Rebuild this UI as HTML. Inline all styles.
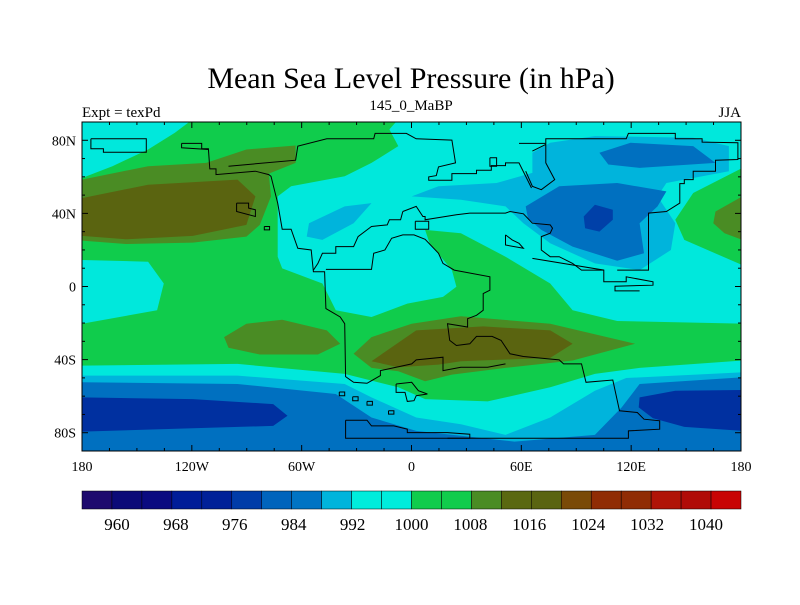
<!DOCTYPE html>
<html><head><meta charset="utf-8"><style>
body{margin:0;background:#fff;}
svg text{font-family:"Liberation Serif",serif;fill:#000;}
</style></head><body>
<svg width="800" height="600" viewBox="0 0 800 600">
<text x="411" y="88" font-size="30" text-anchor="middle">Mean Sea Level Pressure (in hPa)</text>
<text x="82" y="117" font-size="15">Expt = texPd</text>
<text x="411" y="110" font-size="15" text-anchor="middle">145_0_MaBP</text>
<text x="741" y="117" font-size="15" text-anchor="end">JJA</text>
<defs><clipPath id="pc"><rect x="82" y="122" width="659" height="329"/></clipPath></defs>
<g id="fields" clip-path="url(#pc)"></g>
<g id="coast" clip-path="url(#pc)"></g>
<rect x="82" y="122" width="659" height="329" fill="none" stroke="#000" stroke-width="1"/>
<g id="axes"></g>
<g id="cbar"></g>
</svg>
<script>
// contour level colours (colorbar)
const barColors=["#1e0a6e","#0c0a78","#0a0a80","#001c98","#002098","#003ca8","#0064bc","#0074c4","#00b4dc","#00ecdc","#00ecdc","#10cc4c","#10cc4c","#4a8c24","#5a6810","#5a6410","#7a4a08","#902c04","#902c04","#b01408","#b00c08","#c80404"];
const barLabels=["960","968","976","984","992","1000","1008","1016","1024","1032","1040"];
const latTicks=[80,40,0,-40,-80];
const latLabels=["80N","40N","0","40S","80S"];
const lonTicks=[-180,-120,-60,0,60,120,180];
const lonLabels=["180","120W","60W","0","60E","120E","180"];
// contour regions (grid units of the digitised map, converted by proj)
const regions=[
["#00e8dc",[[52,70],[300,70],[260,110],[200,160],[120,210],[52,245]]],
["#00e8dc",[[52,490],[200,495],[235,560],[220,640],[52,680]]],
["#00e8dc",[[760,70],[1530,70],[1530,680],[1250,672],[1150,640],[1100,560],[1000,480],[900,410],[820,400],[830,440],[880,520],[890,570],[860,600],[780,620],[700,660],[620,640],[590,560],[500,515],[490,480],[490,300],[520,270],[640,240],[700,200],[760,150],[740,100]]],
["#10cc4c",[[1530,215],[1420,290],[1380,370],[1400,430],[1530,505]]],
["#4a8c24",[[1530,300],[1470,345],[1465,380],[1490,410],[1530,430]]],
["#00b4dc",[[1060,170],[1100,140],[1200,120],[1420,125],[1500,150],[1500,225],[1360,260],[1340,300],[1380,380],[1370,460],[1300,520],[1200,500],[1100,440],[1040,380],[1000,330],[900,310],[790,300],[850,270],[980,260],[1060,230]]],
["#00b4dc",[[560,380],[640,330],[700,320],[660,380],[590,430],[555,420]]],
["#0070c0",[[1210,170],[1280,140],[1420,150],[1470,200],[1300,215],[1230,205]]],
["#0070c0",[[1045,330],[1120,270],[1250,260],[1360,285],[1340,330],[1300,380],[1310,470],[1250,492],[1150,450],[1080,400],[1050,365]]],
["#0040a8",[[1200,325],[1240,340],[1240,370],[1210,405],[1178,395],[1175,360]]],
["#4a8c24",[[52,250],[200,210],[330,200],[420,160],[530,148],[530,200],[470,232],[475,300],[450,385],[420,420],[300,438],[150,442],[52,432]]],
["#5a6410",[[52,305],[200,265],[400,250],[440,300],[420,385],[300,418],[150,428],[52,418]]],
["#4a8c24",[[370,720],[420,680],[500,668],[600,700],[630,740],[580,772],[450,772],[380,752]]],
["#4a8c24",[[660,770],[700,720],[790,680],[900,658],[1100,680],[1290,740],[1150,790],[1000,812],[880,832],[820,852],[760,822],[700,812]]],
["#5a6410",[[700,792],[800,700],[950,688],[1100,700],[1150,740],[1100,782],[900,792],[850,802],[760,810]]],
["#00e8dc",[[52,805],[400,800],[640,830],[760,870],[820,905],[960,912],[1100,870],[1200,830],[1300,812],[1530,790],[1530,1070],[52,1070]]],
["#00b4dc",[[52,835],[400,835],[640,860],[700,900],[800,960],[900,980],[1000,1012],[1100,960],[1200,880],[1270,842],[1530,825],[1530,1070],[52,1070]]],
["#0070c0",[[52,855],[400,860],[620,890],[700,960],[800,1000],[1020,1032],[1200,1012],[1260,930],[1300,860],[1530,840],[1530,1070],[52,1070]]],
["#0030a0",[[52,900],[300,905],[480,920],[512,955],[480,985],[300,992],[52,1002]]],
["#0030a0",[[1300,900],[1380,880],[1530,878],[1530,1000],[1400,988],[1330,962],[1298,930]]]
];
const coasts=[
[[72,128],[196,128],[196,168],[100,168],[100,158],[72,158],[72,128]],
[[275,142],[320,142],[320,158],[335,158],[338,218],[352,218],[352,235],[440,225],[470,235],[475,240],[490,320],[500,398],[520,398],[535,455],[565,460],[570,525],[595,525],[598,635],[630,660],[640,680],[642,838],[660,855],[690,858],[720,835],[720,820],[790,800],[800,788],[860,780],[860,820],[900,810],[960,810],[1000,800]],
[[275,142],[275,155],[335,160]],
[[380,210],[530,192],[535,150],[600,128],[705,128],[708,112],[778,112],[800,128],[880,132],[888,200],[850,212],[845,238],[828,242],[828,252],[880,252],[880,232],[935,232],[935,222],[968,222],[968,208],[1000,208],[1000,200],[1030,200],[1045,240],[1058,275]],
[[1030,142],[1090,142],[1090,128],[1270,128],[1275,112],[1380,112],[1380,128],[1440,128],[1440,138],[1520,140],[1520,190],[1470,192],[1470,225],[1420,225],[1420,250],[1400,250],[1400,262],[1390,262],[1390,320],[1360,345],[1320,350],[1320,520],[1250,520]],
[[1060,165],[1090,145],[1090,200],[1110,250],[1080,280],[1060,270],[1045,225]],
[[770,345],[800,330],[815,360],[820,360],[820,370],[890,355],[920,350],[1000,350],[1010,345],[1040,352],[1060,380],[1100,385],[1105,395],[1100,410],[1080,420],[1080,460],[1100,480],[1120,480],[1150,500],[1170,520],[1220,520]],
[[770,345],[765,370],[740,370],[735,385],[700,390],[690,400],[670,420],[660,450],[620,450],[620,470],[590,470],[580,500],[570,520]],
[[598,518],[700,518],[705,470],[730,460],[745,425],[770,415],[795,415],[820,428],[850,470],[860,500],[885,520],[965,540],[965,580],[950,590],[950,640],[935,655],[915,665],[915,690],[870,680],[875,730],[890,745],[920,740],[935,718],[970,718],[990,730],[1010,770],[1040,778],[1120,788],[1130,800],[1170,800],[1180,855],[1240,848],[1255,940],[1295,945],[1310,965],[1345,970],[1345,995],[1275,1000],[1275,1022],[870,1022]],
[[642,968],[690,968],[700,985],[750,985],[780,995],[780,1005],[870,1005],[920,1010],[920,1022],[642,1022],[642,968]],
[[1060,485],[1220,520],[1220,555],[1270,555],[1270,540],[1330,555],[1330,565],[1245,568],[1245,582],[1300,582]],
[[755,860],[790,855],[805,880],[825,890],[800,895],[795,910],[780,912],[775,885],[755,885],[755,860]],
[[398,320],[425,320],[425,335],[440,340],[440,360],[398,345],[398,320]],
[[798,374],[828,374],[828,398],[798,398],[798,374]],
[[965,185],[980,185],[980,210],[965,210],[965,185]],
[[1000,415],[1015,430],[1030,440],[1040,455],[1000,445],[1000,415]],
[[628,884],[640,884],[640,895],[628,895],[628,884]],
[[658,898],[670,898],[670,910],[658,910],[658,898]],
[[690,912],[702,912],[702,923],[690,923],[690,912]],
[[738,940],[750,940],[750,950],[738,950],[738,940]],
[[460,390],[472,390],[472,400],[460,400],[460,390]]
];
const NS="http://www.w3.org/2000/svg";
function proj(p){return [(82+(p[0]-52)*659/1475).toFixed(1),(122+(p[1]-78)*329/982).toFixed(1)];}
function xLon(l){return 82+(l+180)*659/360;}
function yLat(l){return 122+(90-l)*329/180;}
const fg=document.getElementById('fields');
const bg=document.createElementNS(NS,'rect');
bg.setAttribute('x',82);bg.setAttribute('y',122);bg.setAttribute('width',659);bg.setAttribute('height',329);bg.setAttribute('fill','#10cc4c');


fg.appendChild(bg);
regions.forEach(r=>{const p=document.createElementNS(NS,'polygon');
p.setAttribute('points',r[1].map(q=>proj(q).join(',')).join(' '));p.setAttribute('fill',r[0]);


fg.appendChild(p);});
const cg=document.getElementById('coast');
coasts.forEach(c=>{const p=document.createElementNS(NS,'polyline');
p.setAttribute('points',c.map(q=>proj(q).join(',')).join(' '));p.setAttribute('fill','none');p.setAttribute('stroke','#000');p.setAttribute('stroke-width','1');


cg.appendChild(p);});
const ax=document.getElementById('axes');
function line(x1,y1,x2,y2){const l=document.createElementNS(NS,'line');l.setAttribute('x1',x1);l.setAttribute('y1',y1);l.setAttribute('x2',x2);l.setAttribute('y2',y2);l.setAttribute('stroke','#000');


ax.appendChild(l);}
function txt(x,y,s,anchor,name){const t=document.createElementNS(NS,'text');t.setAttribute('x',x);t.setAttribute('y',y);t.setAttribute('font-size','14');t.setAttribute('text-anchor',anchor);t.textContent=s;


ax.appendChild(t);}
for(let l=-90;l<=90;l+=10){const y=yLat(l);const m=l%40===0&&Math.abs(l)!==0||l===0;line(82,y,82+(m?6:3),y);line(741,y,741-(m?6:3),y);}
for(let l=-180;l<=180;l+=15){const x=xLon(l);const m=l%60===0;line(x,451,x,451-(m?6:3));line(x,122,x,122+(m?6:3));}
latTicks.forEach((l,i)=>txt(76,yLat(l)+5,latLabels[i],'end','lat-label'));
lonTicks.forEach((l,i)=>txt(xLon(l),471,lonLabels[i],'middle','lon-label'));
const cb=document.getElementById('cbar');
const bw=659/barColors.length;
barColors.forEach((c,i)=>{const r=document.createElementNS(NS,'rect');r.setAttribute('x',82+i*bw);r.setAttribute('y',491);r.setAttribute('width',bw);r.setAttribute('height',18);r.setAttribute('fill',c);r.setAttribute('stroke','#000');r.setAttribute('stroke-width','0.5');


cb.appendChild(r);});
barLabels.forEach((s,i)=>{const t=document.createElementNS(NS,'text');t.setAttribute('x',117+i*58.9);t.setAttribute('y',530);t.setAttribute('font-size','17');t.setAttribute('text-anchor','middle');t.textContent=s;


cb.appendChild(t);});
</script>
</body></html>
